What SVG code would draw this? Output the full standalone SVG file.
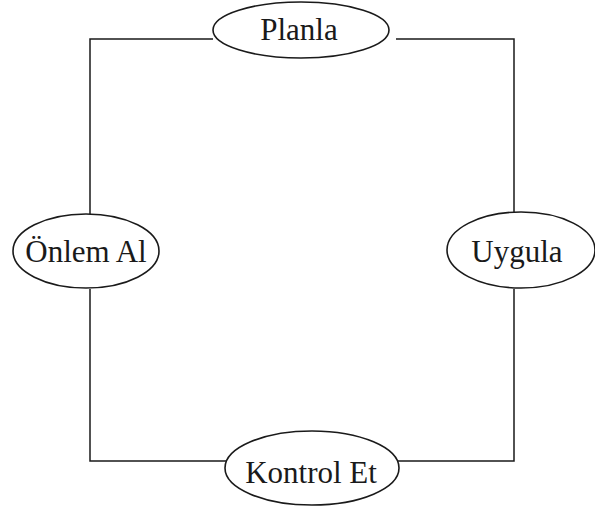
<svg xmlns="http://www.w3.org/2000/svg" width="595" height="510" viewBox="0 0 595 510">
  <style>
    .node ellipse { fill: #ffffff; stroke: #1a1a1a; stroke-width: 1.6; }
    .node text { font-family: "Liberation Serif", "Times New Roman", serif; font-size: 31px; fill: #1a1a1a; text-anchor: middle; }
    .link { fill: none; stroke: #1a1a1a; stroke-width: 1.5; }
  </style>
  <rect width="595" height="510" fill="#ffffff"/>
  <g id="connectors">
    <polyline class="link" points="213,39 90,39 90,214"/>
    <polyline class="link" points="396,39 514,39 514,212"/>
    <polyline class="link" points="514,289 514,461 397,461"/>
    <polyline class="link" points="90,289 90,461 227,461"/>
  </g>
  <g id="planla" class="node">
    <ellipse cx="301" cy="30" rx="88" ry="28"/>
    <text x="299" y="40">Planla</text>
  </g>
  <g id="uygula" class="node">
    <ellipse cx="521" cy="250" rx="74" ry="38"/>
    <text x="517" y="262">Uygula</text>
  </g>
  <g id="kontrol-et" class="node">
    <ellipse cx="312" cy="468" rx="87" ry="37"/>
    <text x="311" y="483">Kontrol Et</text>
  </g>
  <g id="onlem-al" class="node">
    <ellipse cx="86" cy="251" rx="73" ry="37"/>
    <text x="86" y="262">Önlem Al</text>
  </g>
</svg>
